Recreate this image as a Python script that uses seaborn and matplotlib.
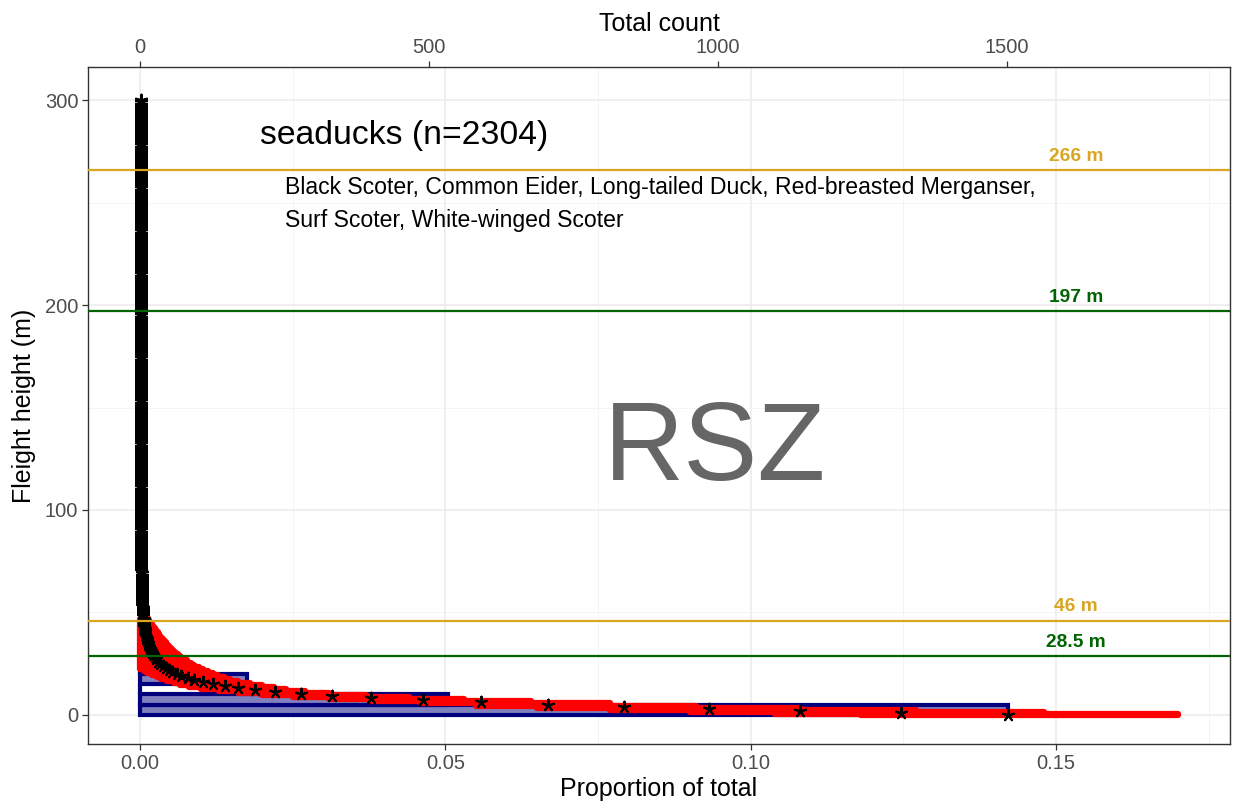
import matplotlib
matplotlib.use("Agg")
import matplotlib.pyplot as plt
import seaborn as sns
import numpy as np

# ---------------- data ----------------
# observed histogram (proportion per metre, 5 m bins)
bin_edges = [0, 5, 10, 15, 20, 25, 30, 35, 40, 45, 50, 55, 60, 65, 70, 75]
bin_mids = [2.5, 7.5, 12.5, 17.5, 22.5, 27.5, 32.5, 37.5, 42.5, 47.5, 52.5, 57.5, 62.5, 67.5, 72.5]
bar_props = [0.1422, 0.0505, 0.0, 0.0176, 0.0005, 0.0, 0.0, 0.0, 0.0, 0.0003, 0.0, 0.0, 0.0007, 0.0, 0.0007]

# modelled proportion at each 1 m height (black stars), heights 0..300
star_low = [0.1422, 0.1247, 0.1081, 0.0932, 0.0792, 0.0669, 0.0559, 0.0463, 0.0379, 0.0314,
            0.0264, 0.0221, 0.0188, 0.0161, 0.0139, 0.0120, 0.0104, 0.0089, 0.0078, 0.0068,
            0.0060, 0.0053, 0.0047, 0.0042, 0.0037, 0.0033, 0.0030, 0.0027, 0.0024, 0.0022,
            0.0020, 0.0018, 0.0016, 0.0015, 0.0014, 0.0013, 0.0012, 0.0011, 0.0010, 0.0009,
            0.0009, 0.0008, 0.0008, 0.0007, 0.0007, 0.0006, 0.0006, 0.0006, 0.0005, 0.0005]
star_mid = [0.0005, 0.0005, 0.0005, 0.0004, 0.0004, 0.0004, 0.0004, 0.0004, 0.0004, 0.0003,
            0.0003, 0.0003, 0.0003, 0.0003, 0.0003, 0.0003, 0.0003, 0.0003, 0.0003, 0.0003,
            0.0002, 0.0002, 0.0002, 0.0002, 0.0002, 0.0002, 0.0002, 0.0002, 0.0002, 0.0002,
            0.0002, 0.0002, 0.0002, 0.0002, 0.0002, 0.0002, 0.0002, 0.0002, 0.0002, 0.0002,
            0.0002, 0.0002, 0.0002, 0.0002, 0.0002, 0.0002, 0.0002, 0.0002, 0.0001, 0.0001]
star_high = [0.0001, 0.0001, 0.0001, 0.0001, 0.0001, 0.0001, 0.0001, 0.0001, 0.0001, 0.0001,
             0.0001, 0.0001, 0.0001, 0.0001, 0.0001, 0.0001, 0.0001, 0.0001, 0.0001, 0.0001,
             0.0001, 0.0001, 0.0001, 0.0001, 0.0001, 0.0001, 0.0001, 0.0001, 0.0001, 0.0001,
             0.0001, 0.0001, 0.0001, 0.0001, 0.0001, 0.0001, 0.0001, 0.0001, 0.0001, 0.0001,
             0.0001, 0.0001, 0.0001, 0.0001, 0.0001, 0.0001, 0.0001, 0.0001, 0.0001, 0.0001,
             0.0001, 0.0001, 0.0001, 0.0001, 0.0001, 0.0001, 0.0001, 0.0001, 0.0001, 0.0001,
             0.0001, 0.0001, 0.0001, 0.0001, 0.0001, 0.0001, 0.0001, 0.0001, 0.0001, 0.0001,
             0.0001, 0.0001, 0.0001, 0.0001, 0.0001, 0.0001, 0.0001, 0.0001, 0.0001, 0.0001,
             0.0001, 0.0001, 0.0001, 0.0001, 0.0001, 0.0001, 0.0001, 0.0001, 0.0001, 0.0001,
             0.0001, 0.0001, 0.0001, 0.0001, 0.0001, 0.0001, 0.0001, 0.0001, 0.0001, 0.0001,
             0.0001, 0.0001, 0.0001, 0.0001, 0.0001, 0.0001, 0.0001, 0.0001, 0.0001, 0.0001,
             0.0001, 0.0001, 0.0001, 0.0001, 0.0001, 0.0001, 0.0001, 0.0001, 0.0001, 0.0001,
             0.0001, 0.0001, 0.0001, 0.0001, 0.0001, 0.0001, 0.0001, 0.0001, 0.0001, 0.0001,
             0.0001, 0.0001, 0.0001, 0.0001, 0.0001, 0.0001, 0.0001, 0.0001, 0.0001, 0.0001,
             0.0001, 0.0001, 0.0001, 0.0001, 0.0001, 0.0001, 0.0001, 0.0001, 0.0001, 0.0001,
             0.0001, 0.0001, 0.0001, 0.0001, 0.0001, 0.0001, 0.0001, 0.0001, 0.0001, 0.0001,
             0.0001, 0.0001, 0.0001, 0.0001, 0.0001, 0.0001, 0.0001, 0.0001, 0.0001, 0.0001,
             0.0001, 0.0001, 0.0001, 0.0001, 0.0001, 0.0001, 0.0001, 0.0001, 0.0001, 0.0001,
             0.0001, 0.0001, 0.0001, 0.0001, 0.0001, 0.0001, 0.0001, 0.0001, 0.0001, 0.0001,
             0.0001, 0.0001, 0.0001, 0.0001, 0.0001, 0.0001, 0.0001, 0.0001, 0.0001, 0.0001,
             0.0001]
star_props = star_low + star_mid + star_high
star_heights = list(range(len(star_props)))

# bootstrap envelope (red), heights 0..47
red_heights = list(range(48))
red_lo = [0.118, 0.104, 0.090, 0.077, 0.065, 0.055, 0.046, 0.038, 0.031, 0.025,
          0.020, 0.016, 0.013, 0.010, 0.008, 0.0065, 0.0055, 0.0045, 0.0035, 0.0028,
          0.0020, 0.0012, 0.0006, 0.0, 0.0, 0.0, 0.0, 0.0, 0.0, 0.0,
          0.0, 0.0, 0.0, 0.0, 0.0, 0.0, 0.0, 0.0, 0.0, 0.0,
          0.0, 0.0, 0.0, 0.0, 0.0, 0.0, 0.0, 0.0]
red_hi = [0.170, 0.148, 0.127, 0.108, 0.091, 0.077, 0.064, 0.053, 0.044, 0.037,
          0.031, 0.027, 0.024, 0.022, 0.020, 0.018, 0.016, 0.0148, 0.0138, 0.0128,
          0.0119, 0.0111, 0.0103, 0.0096, 0.0089, 0.0083, 0.0077, 0.0072, 0.0066, 0.0062,
          0.0058, 0.0054, 0.0051, 0.0048, 0.0045, 0.0042, 0.0039, 0.0036, 0.0033, 0.0031,
          0.0029, 0.0027, 0.0024, 0.0022, 0.0019, 0.0017, 0.0015, 0.0013]

# reference lines
line_heights = [266, 197, 46, 28.5]
line_labels = ["266 m", "197 m", "46 m", "28.5 m"]
line_colors = ["#DAA520", "#006400", "#DAA520", "#006400"]

title_text = "seaducks (n=2304)"
species_text = ["Black Scoter, Common Eider, Long-tailed Duck, Red-breasted Merganser,",
                "Surf Scoter, White-winged Scoter"]
zone_text = "RSZ"

x_ticks = [0.00, 0.05, 0.10, 0.15]
x_minor = [0.025, 0.075, 0.125, 0.175]
y_ticks = [0, 100, 200, 300]
y_minor = [50, 150, 250]
top_ticks = [0, 500, 1000, 1500]
COUNT_PER_PROP = 10570.0

# ---------------- style ----------------
sns.set_theme(style="white")
plt.rcParams["font.family"] = ["Liberation Sans", "DejaVu Sans"]

fig = plt.figure(figsize=(12.36, 8.09), dpi=100)
ax = fig.add_axes([0.0712, 0.0803, 0.924, 0.8368])

# histogram bars
sns.histplot(y=bin_mids, weights=bar_props, bins=bin_edges, stat="count",
             facecolor="#8080bf", edgecolor="#00007f", linewidth=3.0, ax=ax, zorder=2)

# red bootstrap envelope
ax.fill_betweenx(red_heights, red_lo, red_hi, step="mid", facecolor="#ff0000",
                 edgecolor="#ff0000", linewidth=4.5, zorder=3)

# stars
sns.scatterplot(x=star_props, y=star_heights, marker=(5, 2, 0), color="black",
                s=70, linewidth=1.5, ax=ax, zorder=4)

# horizontal reference lines + labels
for h, lab, c in zip(line_heights, line_labels, line_colors):
    ax.axhline(h, color=c, linewidth=1.6, zorder=5)
    ax.text(0.1533, h + 4.5, lab, color=c, fontsize=13.8, fontweight="bold",
            ha="center", va="baseline", zorder=6)

ax.text(0.0197, 283, title_text, fontsize=24.3, ha="left", va="center", color="black")
ax.text(0.0237, 257.5, species_text[0], fontsize=16.6, ha="left", va="center", color="black")
ax.text(0.0237, 241.5, species_text[1], fontsize=16.6, ha="left", va="center", color="black")
ax.text(0.0942, 114.6, zone_text, fontsize=80, ha="center", va="baseline", color="#666666")

# axes
ax.set_xlim(-0.0085, 0.1785)
ax.set_ylim(-14.3, 316.3)
ax.set_xticks(x_ticks)
ax.set_xticklabels([f"{v:.2f}" for v in x_ticks])
ax.set_xticks(x_minor, minor=True)
ax.set_yticks(y_ticks)
ax.set_yticks(y_minor, minor=True)
ax.grid(True, which="major", color="#EBEBEB", linewidth=1.1, zorder=0)
ax.grid(True, which="minor", color="#F2F2F2", linewidth=0.6, zorder=0)
ax.set_axisbelow(True)
ax.tick_params(axis="both", which="major", direction="out", length=4, width=0.9,
               color="#333333", labelsize=14.5, labelcolor="#4D4D4D", pad=3,
               left=True, bottom=True)
ax.tick_params(axis="both", which="minor", length=0)
for s in ax.spines.values():
    s.set_color("#333333")
    s.set_linewidth(1.0)

ax.set_xlabel("Proportion of total", fontsize=18, color="black", labelpad=3)
ax.set_ylabel("Fleight height (m)", fontsize=18, color="black", labelpad=6)

secax = ax.secondary_xaxis("top", functions=(lambda p: p * COUNT_PER_PROP,
                                              lambda c: c / COUNT_PER_PROP))
secax.set_xticks(top_ticks)
secax.set_xticklabels([str(t) for t in top_ticks])
secax.tick_params(axis="x", direction="out", length=4, width=0.9, color="#333333",
                  labelsize=14.5, labelcolor="#4D4D4D", pad=3, top=True)
secax.spines["top"].set_visible(False)
secax.set_xlabel("Total count", fontsize=18, color="black", labelpad=5)

fig.savefig("out.png", dpi=100, facecolor="white")
